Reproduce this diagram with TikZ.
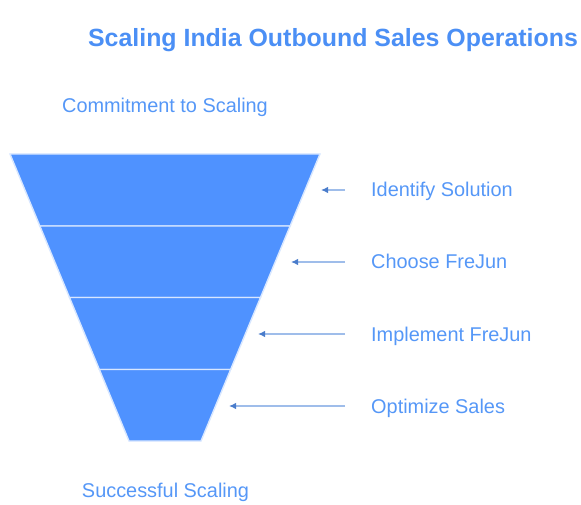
\documentclass[tikz,border=0pt]{standalone}
\usepackage{fontspec}
\setmainfont{Liberation Sans}
\usetikzlibrary{arrows.meta}
\definecolor{funnel}{HTML}{4F92FF}
\definecolor{sep}{HTML}{D8E7FF}
\definecolor{txt}{HTML}{5597F7}
\definecolor{ttl}{HTML}{4B8FF5}
\definecolor{arrline}{HTML}{9FBDEA}
\definecolor{arrhead}{HTML}{4A7CCB}
\tikzset{
  band/.style={fill=funnel, draw=sep, line width=1.4pt},
  lbl/.style={font=\fontsize{19.9}{24}\selectfont, text=txt, inner sep=0pt},
  stepto/.style={draw=arrline, line width=1.2pt, -{Latex[length=7pt,width=6.5pt,color=arrhead]}},
}
\begin{document}
\begin{tikzpicture}[x=1pt,y=-1pt]
\useasboundingbox (0,0) rectangle (581,505);
% funnel bands
\foreach \i/\ya/\yb in {1/154/226,2/226/297.5,3/297.5/369.5,4/369.5/441}{
  \pgfmathsetmacro{\xla}{10+0.414634*(\ya-154)}
  \pgfmathsetmacro{\xlb}{10+0.414634*(\yb-154)}
  \pgfmathsetmacro{\xra}{320-0.414634*(\ya-154)}
  \pgfmathsetmacro{\xrb}{320-0.414634*(\yb-154)}
  \path[band] (\xla,\ya) -- (\xra,\ya) -- (\xrb,\yb) -- (\xlb,\yb) -- cycle;
}
% title and end labels
\node[font=\bfseries\fontsize{24.9}{30}\selectfont, text=ttl, inner sep=0pt, anchor=base] (title) at (333,47) {Scaling India Outbound Sales Operations};
\node[lbl, anchor=base] (start) at (165,112.5) {Commitment to Scaling};
\node[lbl, anchor=base] (finish) at (165.5,497) {Successful Scaling};
% step labels
\node[lbl, anchor=base west] (s1) at (371,197) {Identify Solution};
\node[lbl, anchor=base west] (s2) at (371,269) {Choose FreJun};
\node[lbl, anchor=base west] (s3) at (371,341) {Implement FreJun};
\node[lbl, anchor=base west] (s4) at (371,413) {Optimize Sales};
% arrow coordinates
\coordinate (a1) at (345,190); \coordinate (t1) at (321,190);
\coordinate (a2) at (345,262); \coordinate (t2) at (291,262);
\coordinate (a3) at (345,334); \coordinate (t3) at (258,334);
\coordinate (a4) at (345,406); \coordinate (t4) at (229,406);
\draw[stepto] (a1) -- (t1);
\draw[stepto] (a2) -- (t2);
\draw[stepto] (a3) -- (t3);
\draw[stepto] (a4) -- (t4);
\end{tikzpicture}
\end{document}
